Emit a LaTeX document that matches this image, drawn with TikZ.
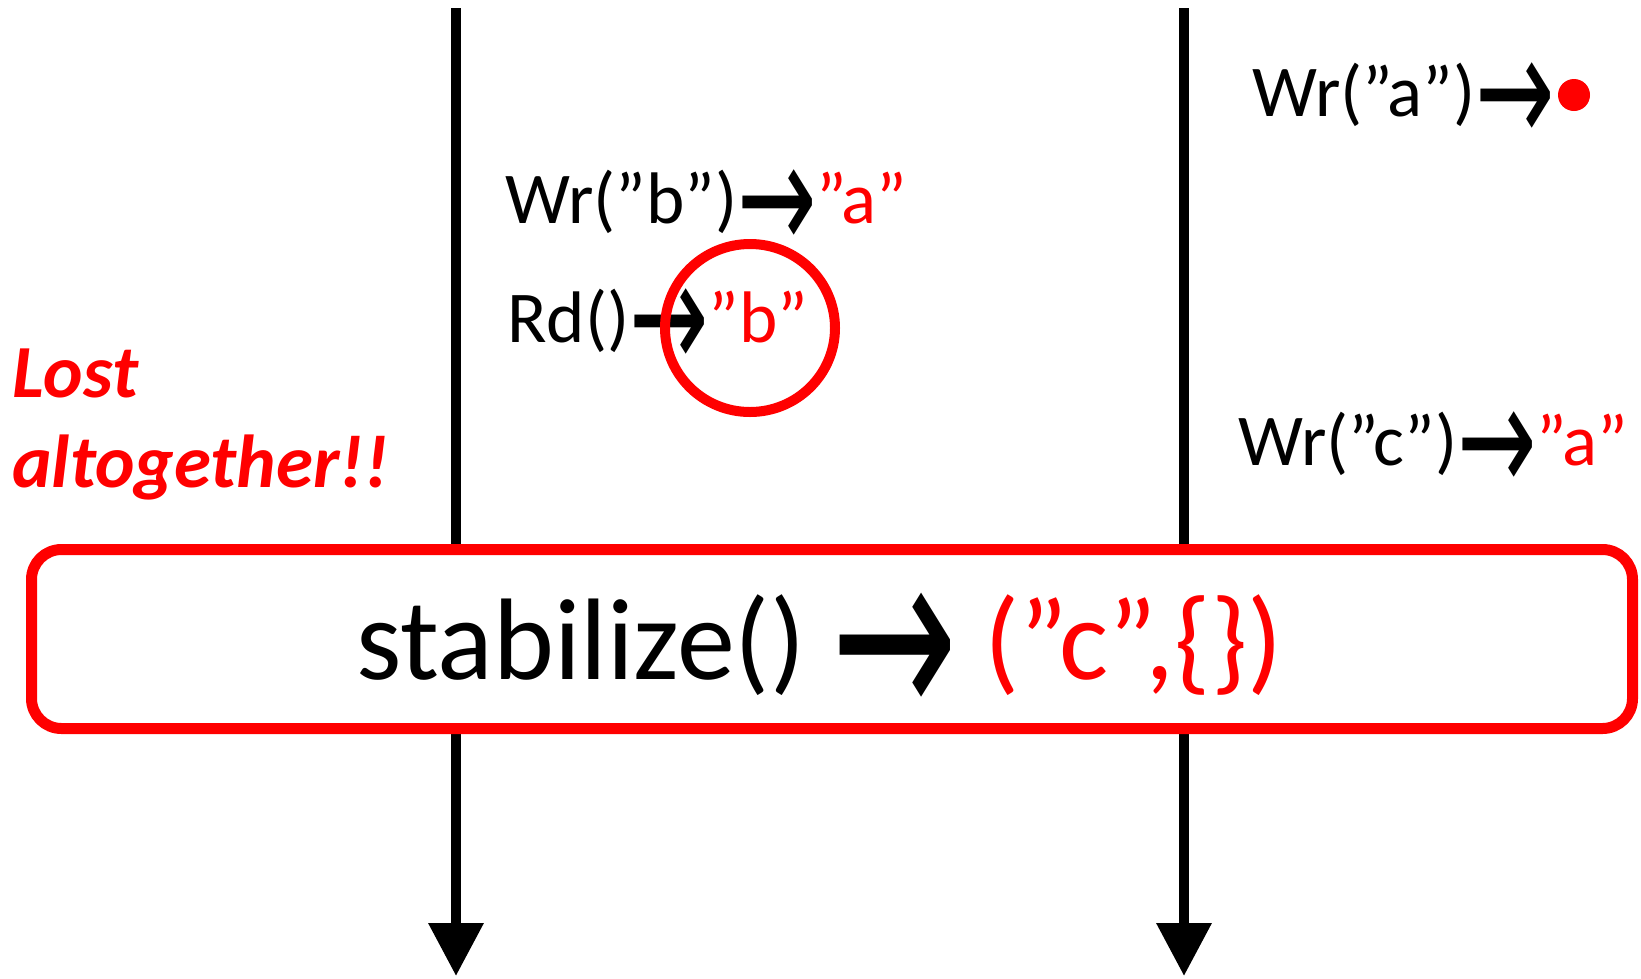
\documentclass[tikz,border=0pt]{standalone}
\usepackage{fontspec}
\usepackage{graphicx}
\setmainfont{Carlito}
\newfontfamily\arrowfont{DejaVu Sans}
\usetikzlibrary{arrows.meta}
\newcommand{\rar}{\raisebox{-0.37em}{\scalebox{1.3}[2.1]{\arrowfont →}}}
\begin{document}
\begin{tikzpicture}[x=1pt,y=-1pt,
  lbl/.style={anchor=base west, inner sep=0pt, font=\fontsize{73}{88}\selectfont},
  biglbl/.style={anchor=base west, inner sep=0pt, font=\fontsize{116}{130}\selectfont},
  lostlbl/.style={anchor=base west, inner sep=0pt, text=red, font=\fontsize{75}{88}\selectfont\bfseries\itshape},
  timeline/.style={line width=10pt, -{Triangle[length=53pt,width=53pt]}},
  stabbox/.style={draw=red, line width=11pt, rounded corners=30pt, fill=white, inner sep=0pt},
  ring/.style={draw=red, line width=10pt}]
\useasboundingbox (0,0) rectangle (1641,978);
% timelines
\coordinate (t1) at (456,8);
\coordinate (b1) at (456,976);
\coordinate (t2) at (1184,8);
\coordinate (b2) at (1184,976);
\draw[timeline] (t1) -- (b1);
\draw[timeline] (t2) -- (b2);
% stabilize box
\node[stabbox, minimum width=1601pt, minimum height=179pt] (stab) at (832,639) {};
\node[biglbl] (stabtext) at (356,679) {stabilize() \rar{} \textcolor{red}{(”c”,\{\})}};
% labels
\node[lbl] (wra) at (1252,116) {Wr(”a”)\rar};
\node[circle, fill=red, inner sep=0pt, minimum size=32pt] (dot) at (1574,95) {};
\node[lbl] (wrb) at (505,223) {Wr(”b”)\rar\textcolor{red}{”a”}};
\node[lbl] (rd) at (507,342) {Rd()\rar\textcolor{red}{”b”}};
\node[lbl] (wrc) at (1238,465) {Wr(”c”)\rar\textcolor{red}{”a”}};
\draw[ring] (750,328) ellipse [x radius=85, y radius=84];
\node[lostlbl] (lost1) at (12,397) {Lost};
\node[lostlbl] (lost2) at (12,487) {altogether!!};
\end{tikzpicture}
\end{document}
